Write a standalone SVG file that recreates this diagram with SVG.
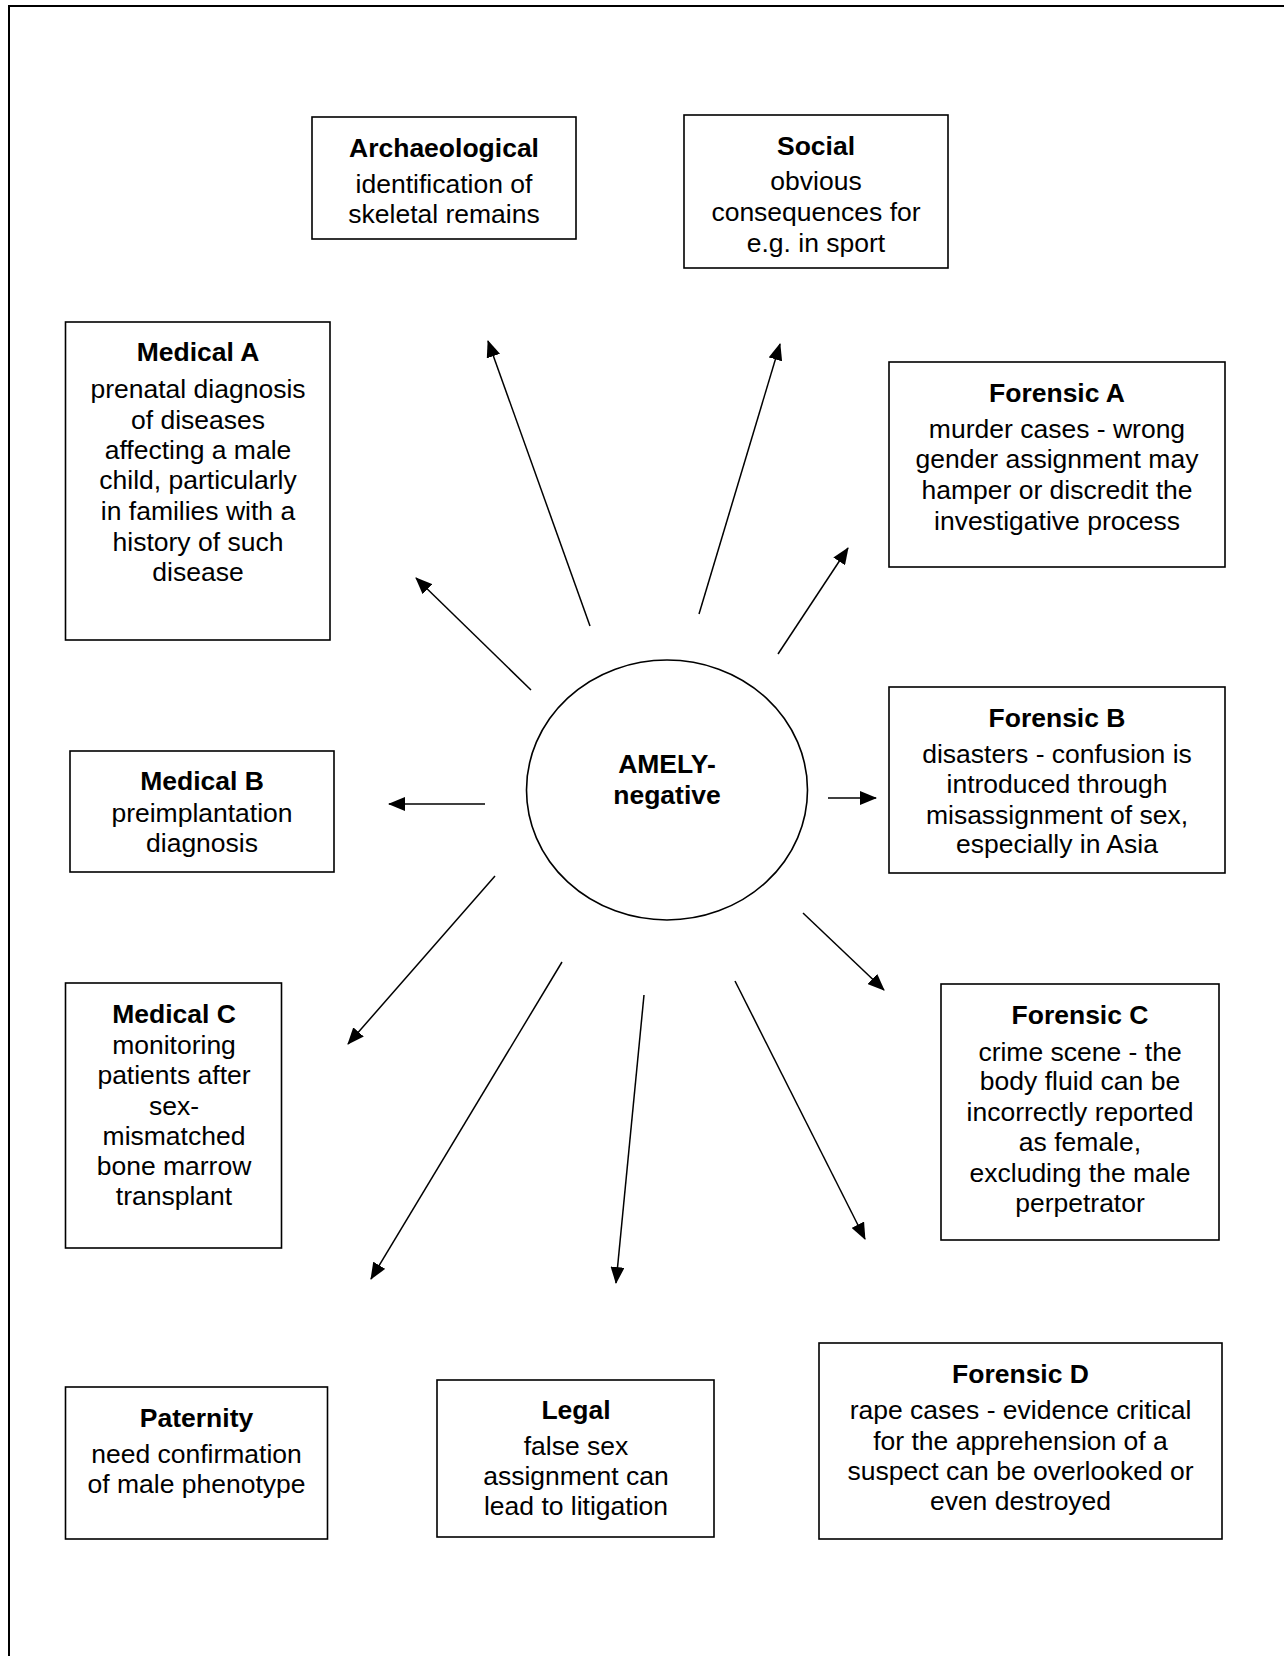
<svg xmlns="http://www.w3.org/2000/svg" width="1284" height="1656" viewBox="0 0 1284 1656">
<style>
.box{fill:#fff;stroke:#000;stroke-width:1.6}
.t{font-family:"Liberation Sans",Arial,sans-serif;font-size:26.5px;text-anchor:middle;fill:#000}
.b{font-weight:bold}
.c{stroke:#000;stroke-width:1.5;fill:none;marker-end:url(#ah)}
</style>
<defs>
<marker id="ah" markerUnits="userSpaceOnUse" markerWidth="17" markerHeight="14" refX="16" refY="7" orient="auto">
<path d="M0,0 L17,7 L0,14 z" fill="#000"/>
</marker>
</defs>
<rect width="1284" height="1656" fill="#fff"/>
<path d="M9,1656 L9,6 L1284,6" fill="none" stroke="#000" stroke-width="2"/>
<g id="connectors">
<line class="c" x1="590" y1="626" x2="488" y2="341"/>
<line class="c" x1="699" y1="614" x2="780" y2="344"/>
<line class="c" x1="778" y1="654" x2="848" y2="548"/>
<line class="c" x1="531" y1="690" x2="416" y2="578"/>
<line class="c" x1="485" y1="804" x2="389" y2="804"/>
<line class="c" x1="828" y1="798" x2="876" y2="798"/>
<line class="c" x1="495" y1="876" x2="348" y2="1044"/>
<line class="c" x1="803" y1="913" x2="884" y2="990"/>
<line class="c" x1="562" y1="962" x2="371" y2="1279"/>
<line class="c" x1="644" y1="995" x2="616" y2="1283"/>
<line class="c" x1="735" y1="981" x2="865" y2="1239"/>
</g>
<g id="center">
<ellipse cx="667" cy="790" rx="140.5" ry="130" fill="#fff" stroke="#000" stroke-width="1.6"/>
<text class="t b" x="667" y="773">AMELY-</text>
<text class="t b" x="667" y="804">negative</text>
</g>
<g id="archaeological">
<rect class="box" x="312" y="117" width="264" height="122"/>
<text class="t b" x="444" y="157">Archaeological</text>
<text class="t" x="444" y="193">identification of</text>
<text class="t" x="444" y="223">skeletal remains</text>
</g>
<g id="social">
<rect class="box" x="684" y="115" width="264" height="153"/>
<text class="t b" x="816" y="155">Social</text>
<text class="t" x="816" y="190">obvious</text>
<text class="t" x="816" y="221">consequences for</text>
<text class="t" x="816" y="252">e.g. in sport</text>
</g>
<g id="medicalA">
<rect class="box" x="65.5" y="322" width="264.5" height="318"/>
<text class="t b" x="198" y="361">Medical A</text>
<text class="t" x="198" y="398">prenatal diagnosis</text>
<text class="t" x="198" y="428.5">of diseases</text>
<text class="t" x="198" y="459">affecting a male</text>
<text class="t" x="198" y="489">child, particularly</text>
<text class="t" x="198" y="520">in families with a</text>
<text class="t" x="198" y="550.5">history of such</text>
<text class="t" x="198" y="581">disease</text>
</g>
<g id="forensicA">
<rect class="box" x="889" y="362" width="336" height="205"/>
<text class="t b" x="1057" y="402">Forensic A</text>
<text class="t" x="1057" y="438">murder cases - wrong</text>
<text class="t" x="1057" y="468">gender assignment may</text>
<text class="t" x="1057" y="499">hamper or discredit the</text>
<text class="t" x="1057" y="529.5">investigative process</text>
</g>
<g id="forensicB">
<rect class="box" x="889" y="687" width="336" height="186"/>
<text class="t b" x="1057" y="726.5">Forensic B</text>
<text class="t" x="1057" y="763">disasters - confusion is</text>
<text class="t" x="1057" y="793">introduced through</text>
<text class="t" x="1057" y="824">misassignment of sex,</text>
<text class="t" x="1057" y="853">especially in Asia</text>
</g>
<g id="medicalB">
<rect class="box" x="70" y="751" width="264" height="121"/>
<text class="t b" x="202" y="790">Medical B</text>
<text class="t" x="202" y="821.5">preimplantation</text>
<text class="t" x="202" y="851.5">diagnosis</text>
</g>
<g id="medicalC">
<rect class="box" x="65.5" y="983" width="216" height="265"/>
<text class="t b" x="174" y="1023">Medical C</text>
<text class="t" x="174" y="1054">monitoring</text>
<text class="t" x="174" y="1084">patients after</text>
<text class="t" x="174" y="1114.5">sex-</text>
<text class="t" x="174" y="1144.5">mismatched</text>
<text class="t" x="174" y="1175">bone marrow</text>
<text class="t" x="174" y="1205">transplant</text>
</g>
<g id="forensicC">
<rect class="box" x="941" y="984" width="278" height="256"/>
<text class="t b" x="1080" y="1024">Forensic C</text>
<text class="t" x="1080" y="1060.5">crime scene - the</text>
<text class="t" x="1080" y="1090">body fluid can be</text>
<text class="t" x="1080" y="1121">incorrectly reported</text>
<text class="t" x="1080" y="1151">as female,</text>
<text class="t" x="1080" y="1182">excluding the male</text>
<text class="t" x="1080" y="1211.5">perpetrator</text>
</g>
<g id="paternity">
<rect class="box" x="65.5" y="1387" width="262" height="152"/>
<text class="t b" x="196.5" y="1427">Paternity</text>
<text class="t" x="196.5" y="1463">need confirmation</text>
<text class="t" x="196.5" y="1493">of male phenotype</text>
</g>
<g id="legal">
<rect class="box" x="437" y="1380" width="277" height="157"/>
<text class="t b" x="576" y="1419">Legal</text>
<text class="t" x="576" y="1455">false sex</text>
<text class="t" x="576" y="1485">assignment can</text>
<text class="t" x="576" y="1515">lead to litigation</text>
</g>
<g id="forensicD">
<rect class="box" x="819" y="1343" width="403" height="196"/>
<text class="t b" x="1020.5" y="1383">Forensic D</text>
<text class="t" x="1020.5" y="1419">rape cases - evidence critical</text>
<text class="t" x="1020.5" y="1449.5">for the apprehension of a</text>
<text class="t" x="1020.5" y="1480">suspect can be overlooked or</text>
<text class="t" x="1020.5" y="1509.5">even destroyed</text>
</g>
</svg>
